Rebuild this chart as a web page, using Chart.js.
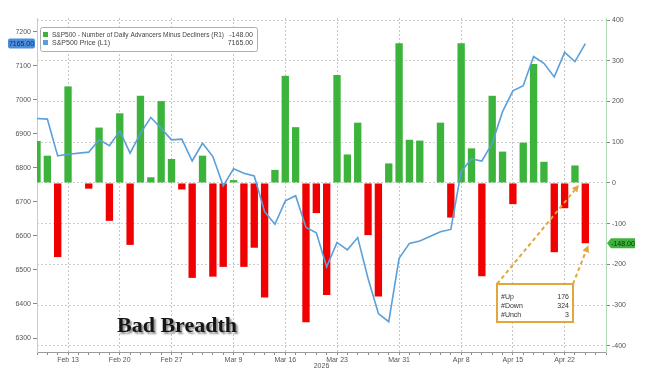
<!DOCTYPE html>
<html>
<head>
<meta charset="utf-8">
<script src="https://cdn.jsdelivr.net/npm/chart.js@4.4.1/dist/chart.umd.min.js"></script>
<style>html,body{margin:0;padding:0;background:#fff;}canvas{display:block;}</style>
</head>
<body>
<canvas id="c" width="654" height="378"></canvas>
<script>
// ---------- data ----------
const dates = [
  'Feb 10','Feb 11','Feb 12','Feb 13',
  'Feb 16','Feb 17','Feb 18','Feb 19','Feb 20',
  'Feb 23','Feb 24','Feb 25','Feb 26','Feb 27',
  'Mar 2','Mar 3','Mar 4','Mar 5','Mar 6',
  'Mar 9','Mar 10','Mar 11','Mar 12','Mar 13',
  'Mar 16','Mar 17','Mar 18','Mar 19','Mar 20',
  'Mar 23','Mar 24','Mar 25','Mar 26','Mar 27',
  'Mar 30','Mar 31','Apr 1','Apr 2','Apr 3',
  'Apr 6','Apr 7','Apr 8','Apr 9','Apr 10',
  'Apr 13','Apr 14','Apr 15','Apr 16','Apr 17',
  'Apr 20','Apr 21','Apr 22','Apr 23','Apr 24',
  'Apr 27','Apr 28'
];
const breadth = [
  103, 67, -182, 237,
  null, -14, 136, -93, 171,
  -152, 214, 14, 201, 59,
  -16, -233, 67, -230, -206,
  7, -206, -159, -281, 32,
  263, 137, -342, -74, -275,
  265, 70, 148, -128, -279,
  48, 343, 106, 104, null,
  148, -85, 343, 85, -229,
  214, 77, -52, 99, 292,
  52, -170, -62, 43, -148,
  null, null
];
const price = [
  6945, 6943, 6835, 6840,
  null, 6846, 6882, 6865, 6908,
  6843, 6901, 6948, 6916, 6882,
  6884, 6820, 6872, 6833, 6747,
  6797, 6784, 6776, 6671, 6634,
  6703, 6718, 6625, 6609, 6509,
  6581, 6559, 6595, 6475, 6372,
  6348, 6534, 6578, 6585, null,
  6612, 6619, 6789, 6826, 6820,
  6872, 6965, 7026, 7041, 7127,
  7107, 7067, 7139, 7112, 7165,
  null, null
];
const labeledDates = ['Feb 13','Feb 20','Feb 27','Mar 9','Mar 16','Mar 23','Mar 31','Apr 8','Apr 15','Apr 22'];
const yearLabel = '2026';
const leftTicks = [6300, 6400, 6500, 6600, 6700, 6800, 6900, 7000, 7100, 7200];
const rightTicks = [-400, -300, -200, -100, 0, 100, 200, 300, 400];
const seriesNames = ['S&P500 - Number of Daily Advancers Minus Decliners (R1)', 'S&P500 Price (L1)'];
const statLabels = ['#Up', '#Down', '#Unch'];
const statValues = [176, 324, 3];
const titleText = 'Bad Breadth';

// ---------- style ----------
const GREEN = '#3cb43c', RED = '#f00000', BLUE = '#5b9fd8', ORANGE = '#e3a63a';
const FONT = '"Liberation Sans", Arial, sans-serif';
const TXT = '#555';

function lastIdx(arr){ for (let i = arr.length - 1; i >= 0; i--) if (arr[i] !== null) return i; return -1; }

const overlay = {
  id: 'overlay',
  afterDraw(chart) {
    const {ctx, chartArea: a, scales: {x, yL, yR}} = chart;
    const bi = lastIdx(breadth), pi = lastIdx(price);
    const bLast = breadth[bi], pLast = price[pi];
    ctx.save();

    // legend box
    const lx = a.left + 3, ly = a.top + 9, lw = 217, lh = 24;
    ctx.fillStyle = '#fff';
    ctx.strokeStyle = '#b0b0b0';
    ctx.lineWidth = 1;
    ctx.beginPath();
    ctx.roundRect(lx + 0.5, ly + 0.5, lw, lh, 2);
    ctx.fill(); ctx.stroke();
    ctx.fillStyle = GREEN; ctx.fillRect(lx + 3, ly + 5, 5, 5);
    ctx.fillStyle = BLUE;  ctx.fillRect(lx + 3, ly + 13, 5, 5);
    ctx.font = '7px ' + FONT;
    ctx.fillStyle = '#444';
    ctx.textBaseline = 'middle';
    ctx.textAlign = 'left';
    ctx.fillText(seriesNames[0], lx + 12, ly + 8, 172);
    ctx.fillText(seriesNames[1], lx + 12, ly + 16);
    ctx.textAlign = 'right';
    ctx.fillText(bLast.toFixed(2), lx + lw - 4, ly + 8);
    ctx.fillText(pLast.toFixed(2), lx + lw - 4, ly + 16);

    // left value tag
    const py = yL.getPixelForValue(pLast);
    ctx.fillStyle = '#4a8edb';
    ctx.beginPath();
    ctx.roundRect(8, py - 5, 27, 10, 2);
    ctx.fill();
    ctx.fillStyle = '#0d2d66';
    ctx.textAlign = 'center';
    ctx.font = '7px ' + FONT;
    ctx.fillText(pLast.toFixed(2), 21.5, py + 0.5, 25);

    // right value tag
    const by = yR.getPixelForValue(bLast);
    const rx = a.right + 1;
    ctx.fillStyle = GREEN;
    ctx.beginPath();
    ctx.moveTo(rx, by);
    ctx.lineTo(rx + 4, by - 5);
    ctx.lineTo(rx + 28, by - 5);
    ctx.lineTo(rx + 28, by + 5);
    ctx.lineTo(rx + 4, by + 5);
    ctx.closePath();
    ctx.fill();
    ctx.fillStyle = '#0a300a';
    ctx.fillText(bLast.toFixed(2), rx + 16, by + 0.5, 24);

    // title text
    ctx.font = 'bold 22px "Liberation Serif", "Times New Roman", serif';
    ctx.textAlign = 'left';
    ctx.textBaseline = 'alphabetic';
    ctx.shadowColor = 'rgba(0,0,0,0.45)';
    ctx.shadowOffsetX = 2; ctx.shadowOffsetY = 2; ctx.shadowBlur = 2;
    ctx.fillStyle = '#151515';
    ctx.fillText(titleText, a.left + 80, a.bottom - 20);
    ctx.shadowColor = 'transparent';

    // annotation arrows
    const bx = 497, byy = 284, bw = 76, bh = 38;
    const t1 = {x: x.getPixelForValue(bi - 1) + 4, y: yR.getPixelForValue(0) + 2};
    const t2 = {x: x.getPixelForValue(bi) + 3, y: by + 2};
    function arrow(x0, y0, x1, y1) {
      ctx.strokeStyle = ORANGE; ctx.fillStyle = ORANGE;
      ctx.lineWidth = 2; ctx.setLineDash([4, 3]);
      const ang = Math.atan2(y1 - y0, x1 - x0);
      const hx = x1 - Math.cos(ang) * 7, hy = y1 - Math.sin(ang) * 7;
      ctx.beginPath(); ctx.moveTo(x0, y0); ctx.lineTo(hx, hy); ctx.stroke();
      ctx.setLineDash([]);
      ctx.beginPath();
      ctx.moveTo(x1, y1);
      ctx.lineTo(hx + Math.sin(ang) * 3.5, hy - Math.cos(ang) * 3.5);
      ctx.lineTo(hx - Math.sin(ang) * 3.5, hy + Math.cos(ang) * 3.5);
      ctx.closePath(); ctx.fill();
    }
    arrow(bx, byy, t1.x, t1.y);
    arrow(bx + bw, byy, t2.x, t2.y);

    // annotation box
    ctx.fillStyle = '#fff';
    ctx.strokeStyle = ORANGE;
    ctx.lineWidth = 2;
    ctx.fillRect(bx, byy, bw, bh);
    ctx.strokeRect(bx, byy, bw, bh);
    ctx.font = '7px ' + FONT;
    ctx.fillStyle = '#333';
    ctx.textBaseline = 'middle';
    statLabels.forEach((l, i) => {
      const yy = byy + 13 + i * 9;
      ctx.textAlign = 'left'; ctx.fillText(l, bx + 4, yy);
      ctx.textAlign = 'right'; ctx.fillText(String(statValues[i]), bx + bw - 4, yy);
    });

    ctx.restore();
  }
};

new Chart(document.getElementById('c'), {
  type: 'bar',
  data: {
    labels: dates,
    datasets: [
      {type: 'line', label: seriesNames[1], data: price, yAxisID: 'yL',
       borderColor: BLUE, borderWidth: 1.6, pointRadius: 0, tension: 0,
       spanGaps: true, order: 0, clip: 0},
      {type: 'bar', label: seriesNames[0], data: breadth, yAxisID: 'yR',
       backgroundColor: c => (c.raw >= 0 ? GREEN : RED),
       barPercentage: 0.71, categoryPercentage: 1, order: 1, clip: 0}
    ]
  },
  options: {
    responsive: false,
    animation: false,
    layout: {padding: {top: 18, left: 0, right: 0, bottom: 0}},
    plugins: {legend: {display: false}, tooltip: {enabled: false}},
    scales: {
      x: {
        type: 'category', offset: false,
        grid: {offset: false, lineWidth: 1,
               color: c => (labeledDates.includes(dates[c.index]) ? '#c6c6c6' : 'rgba(0,0,0,0)'),
               tickColor: '#8a8a8a', tickLength: 3},
        border: {color: '#9a9a9a', dash: [2, 2]},
        ticks: {autoSkip: false, maxRotation: 0, minRotation: 0, padding: 1,
                font: {family: FONT, size: 7}, color: TXT,
                callback: (v, i) => (labeledDates.includes(dates[i]) ? dates[i] : '')},
        title: {display: true, text: yearLabel, font: {family: FONT, size: 7}, color: TXT,
                padding: {top: 0, bottom: 8}},
        afterFit: s => { s.height = 26; }
      },
      yL: {
        position: 'left', min: 6259, max: 7240,
        afterBuildTicks: s => { s.ticks = leftTicks.map(v => ({value: v})); },
        grid: {drawOnChartArea: false, tickLength: 4, tickColor: '#8a8a8a'},
        border: {color: '#b4dcb4'},
        ticks: {padding: 2, font: {family: FONT, size: 7}, color: TXT, callback: v => String(v)},
        afterFit: s => { s.width = 37; }
      },
      yR: {
        position: 'right', min: -415, max: 405,
        afterBuildTicks: s => { s.ticks = rightTicks.map(v => ({value: v})); },
        grid: {color: '#cfcfcf', tickLength: 4, tickColor: '#8a8a8a'},
        border: {color: '#b4dcb4', dash: [2, 2]},
        ticks: {padding: 2, font: {family: FONT, size: 7}, color: TXT, callback: v => String(v)},
        afterFit: s => { s.width = 48; }
      }
    }
  },
  plugins: [overlay]
});
</script>
</body>
</html>
